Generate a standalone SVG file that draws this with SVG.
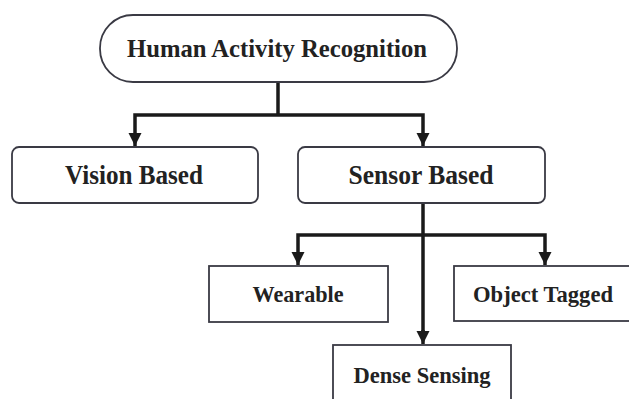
<svg xmlns="http://www.w3.org/2000/svg" width="629" height="399" viewBox="0 0 629 399">
<style>
.box{fill:#fff;stroke:#3a3a44;stroke-width:1.8}
.lbl{font-family:"Liberation Serif","Times New Roman",serif;font-weight:bold;fill:#222;text-anchor:middle}
.con{fill:none;stroke:#1a1a1a;stroke-width:3.5}
</style>
<defs>
<marker id="ah" markerUnits="userSpaceOnUse" markerWidth="14" markerHeight="14" refX="13" refY="7" orient="auto" viewBox="0 0 14 14">
<path d="M0,0.5 L13,7 L0,13.5 Z" fill="#1a1a1a"/>
</marker>
</defs>
<rect width="629" height="399" fill="#fff"/>
<g id="connectors">
<path class="con" d="M278,82 V115"/>
<path class="con" d="M135,136 V115 H423 V136"/>
<path class="con" d="M135,133 V146" marker-end="url(#ah)"/>
<path class="con" d="M423,133 V146" marker-end="url(#ah)"/>
<path class="con" d="M423,203 V333"/>
<path class="con" d="M423,330 V344" marker-end="url(#ah)"/>
<path class="con" d="M298,255 V235 H545 V255"/>
<path class="con" d="M298,252 V265" marker-end="url(#ah)"/>
<path class="con" d="M545,252 V265" marker-end="url(#ah)"/>
</g>
<g id="har">
<rect class="box" x="100" y="15" width="357" height="67" rx="33" stroke-width="2"/>
<text class="lbl" x="277" y="57" font-size="26" textLength="300" lengthAdjust="spacingAndGlyphs">Human Activity Recognition</text>
</g>
<g id="vision">
<rect class="box" x="12" y="147" width="246" height="56" rx="7"/>
<text class="lbl" x="134" y="184" font-size="28" textLength="138" lengthAdjust="spacingAndGlyphs">Vision Based</text>
</g>
<g id="sensor">
<rect class="box" x="298" y="147" width="247" height="56" rx="7"/>
<text class="lbl" x="421" y="184" font-size="28" textLength="145" lengthAdjust="spacingAndGlyphs">Sensor Based</text>
</g>
<g id="wearable">
<rect class="box" x="209" y="266" width="179" height="56"/>
<text class="lbl" x="298" y="302" font-size="24" textLength="91" lengthAdjust="spacingAndGlyphs">Wearable</text>
</g>
<g id="object">
<rect class="box" x="454" y="266" width="180" height="55"/>
<text class="lbl" x="543" y="302" font-size="24" textLength="140" lengthAdjust="spacingAndGlyphs">Object Tagged</text>
</g>
<g id="dense">
<rect class="box" x="333" y="345" width="178" height="60"/>
<text class="lbl" x="422" y="383" font-size="24" textLength="137" lengthAdjust="spacingAndGlyphs">Dense Sensing</text>
</g>
</svg>
